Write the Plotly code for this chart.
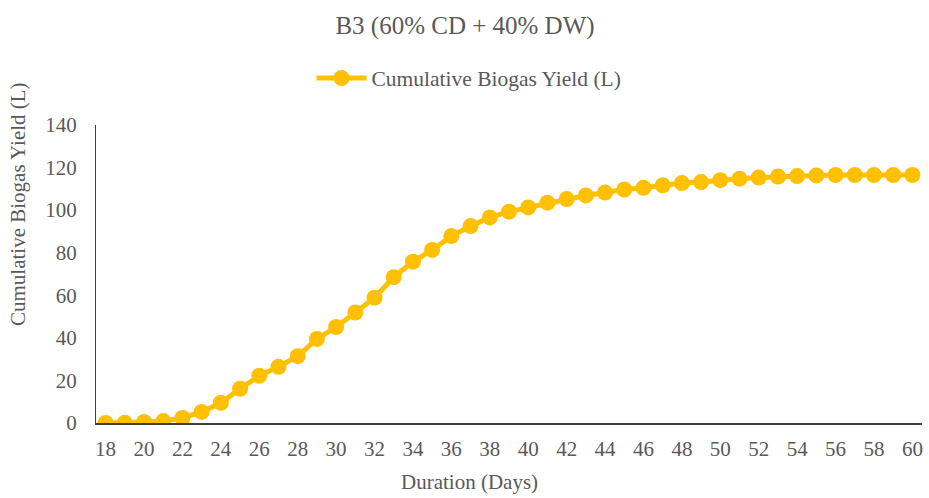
import plotly.graph_objects as go

days = list(range(18, 61))
biogas = [0.0, 0.1, 0.5, 0.9, 2.4, 5.2, 9.5, 16.1, 22.2, 26.4, 31.4, 39.5, 45.1, 51.9, 58.9,
          68.5, 75.8, 81.3, 87.8, 92.5, 96.6, 99.3, 101.3, 103.5, 105.2, 106.9, 108.3, 109.7,
          110.5, 111.7, 112.7, 113.2, 114.1, 114.8, 115.3, 115.8, 116.0, 116.3, 116.5, 116.5,
          116.5, 116.5, 116.5]
x_ticks = list(range(18, 61, 2))
y_ticks = list(range(0, 141, 20))

title_text = "B3 (60% CD + 40% DW)"
series_name = "Cumulative Biogas Yield (L)"
x_title = "Duration (Days)"
y_title = "Cumulative Biogas Yield (L)"

FONT = "Liberation Serif"
GRAY = "#595959"
GOLD = "#FFC000"
W, H = 929, 498
L, R, T, B = 96, 7, 125, 75
PW, PH = W - L - R, H - T - B
FS = 21

fig = go.Figure()
fig.add_trace(go.Scatter(
    x=days, y=biogas, mode="lines+markers", name=series_name,
    line=dict(color=GOLD, width=5),
    marker=dict(color=GOLD, size=16),
))

fig.update_layout(
    width=W, height=H,
    margin=dict(l=L, r=R, t=T, b=B),
    paper_bgcolor="white", plot_bgcolor="white",
    font=dict(family=FONT, color=GRAY, size=FS),
    title=dict(text=title_text, x=465 / W, xref="container", xanchor="center",
               y=1 - 25 / H, yref="container", yanchor="middle",
               font=dict(family=FONT, size=25, color=GRAY)),
    showlegend=True,
    legend=dict(orientation="h", x=469 / W, xref="container", xanchor="center",
                y=1 - 78 / H, yref="container", yanchor="middle",
                font=dict(family=FONT, size=21.5, color=GRAY),
                itemwidth=50, bgcolor="rgba(0,0,0,0)"),
    xaxis=dict(range=[17.5, 60.5], tickmode="array", tickvals=x_ticks,
               ticktext=[str(v) for v in x_ticks], showgrid=False, zeroline=False,
               showline=True, linecolor="#404040", linewidth=2, ticks="",
               ticklabelstandoff=6, tickfont=dict(family=FONT, size=FS, color=GRAY)),
    yaxis=dict(range=[0, 140], tickmode="array", tickvals=y_ticks, showgrid=False,
               zeroline=False, showline=True, linecolor="#404040", linewidth=1,
               ticks="", ticklabelstandoff=14,
               tickfont=dict(family=FONT, size=FS, color=GRAY)),
    annotations=[
        dict(text=x_title, xref="paper", x=(469 - L) / PW, yref="paper",
             y=(H - B - 482) / PH, showarrow=False, xanchor="center", yanchor="middle",
             font=dict(family=FONT, size=FS, color=GRAY)),
        dict(text=y_title, xref="paper", x=(18 - L) / PW, yref="paper",
             y=(H - B - 204) / PH, showarrow=False, xanchor="center", yanchor="middle",
             textangle=-90, font=dict(family=FONT, size=FS, color=GRAY)),
    ],
)

fig.write_html("out.html", config={"displayModeBar": False})
with open("out.html", encoding="utf-8") as f:
    html = f.read()
html = html.replace("<body>", '<body style="margin:0;padding:0;overflow:hidden">', 1)
with open("out.html", "w", encoding="utf-8") as f:
    f.write(html)
